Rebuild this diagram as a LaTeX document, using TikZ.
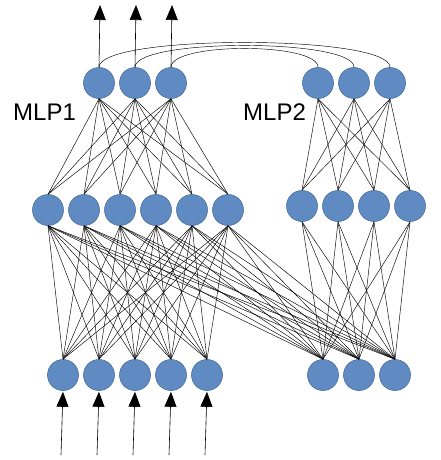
\documentclass[tikz,border=0pt]{standalone}
\usepackage{fontspec}
\setmainfont{Liberation Sans}
\usetikzlibrary{arrows.meta}
\definecolor{neuronfill}{RGB}{95,139,194}
\definecolor{neuronrim}{RGB}{74,110,162}
\begin{document}
\begin{tikzpicture}[x=1pt,y=-1pt,
  neuron/.style={circle,fill=neuronfill,draw=neuronrim,line width=0.6pt,
                 minimum size=31pt,inner sep=0pt},
  link/.style={line width=0.45pt,black},
  signal/.style={line width=0.6pt,-{Triangle[length=15pt,width=12pt]}},
  tag/.style={font=\fontsize{24}{28}\selectfont,inner sep=0pt,anchor=base west}]
\useasboundingbox (0,0) rectangle (440,460);

% MLP1 layers
\foreach \i/\x in {1/99,2/135,3/171} \node[neuron] (t\i) at (\x,83) {};
\foreach \i in {1,...,6} \node[neuron] (h\i) at ({48+36*(\i-1)},210) {};
\foreach \i in {1,...,5} \node[neuron] (b\i) at ({63+36*(\i-1)},375) {};

% MLP2 layers
\foreach \i/\x in {1/318,2/354,3/390} \node[neuron] (u\i) at (\x,83) {};
\foreach \i in {1,...,4} \node[neuron] (g\i) at ({302+36*(\i-1)},206) {};
\foreach \i/\x in {1/323,2/359,3/395} \node[neuron] (c\i) at (\x,375) {};

% labels
\node[tag] (lab1) at (13,120) {MLP1};
\node[tag] (lab2) at (243,120) {MLP2};

% fully connected weights
\foreach \i in {1,2,3} \foreach \j in {1,...,6} \draw[link] (t\i.south) -- (h\j.north);
\foreach \i in {1,2,3} \foreach \j in {1,...,4} \draw[link] (u\i.south) -- (g\j.north);
\foreach \i in {1,...,6} \foreach \j in {1,...,5} \draw[link] (h\i.south) -- (b\j.north);
\foreach \i in {1,...,6} \foreach \j in {1,2,3} \draw[link] (h\i.south) -- (c\j.north);
\foreach \i in {1,...,4} \foreach \j in {1,2,3} \draw[link] (g\i.south) -- (c\j.north);

% links between the two output layers
\draw[link] (t1.north) .. controls +(0,-33) and +(0,-33) .. (u3.north);
\draw[link] (t2.north) .. controls +(0,-29) and +(0,-29) .. (u2.north);
\draw[link] (t3.north) .. controls +(0,-25) and +(0,-25) .. (u1.north);

% outputs
\foreach \i/\x in {1/100,2/136,3/172} {
  \coordinate (o\i) at (\x,5);
  \draw[signal] (t\i.north) -- (o\i);
}

% inputs
\foreach \i in {1,...,5} {
  \coordinate (in\i) at ({61+36*(\i-1)},455);
  \draw[signal,shorten >=1pt] (in\i) -- (b\i.south);
}
\end{tikzpicture}
\end{document}
